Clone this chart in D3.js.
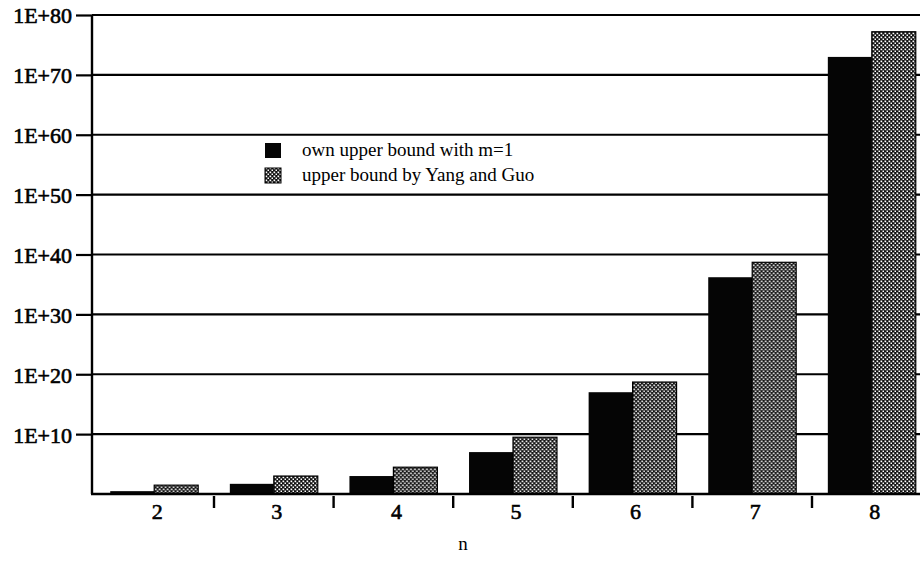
<!DOCTYPE html>
<html>
<head>
<meta charset="utf-8">
<script src="https://cdn.jsdelivr.net/npm/d3@7"></script>
<style>
  html, body { margin: 0; padding: 0; background: #fff; }
  svg { display: block; }
  text { font-family: "Liberation Serif", "DejaVu Serif", serif; fill: #000; }
</style>
</head>
<body>
<svg id="chart" width="920" height="569"></svg>
<script>
// ---- data ----
const categories = ["2", "3", "4", "5", "6", "7", "8"];
const seriesNames = ["own upper bound with m=1", "upper bound by Yang and Guo"];
const ownBound = [3, 5e1, 1e3, 1e7, 1e17, 1.6e36, 1e73];
const yangGuoBound = [3e1, 1e3, 3e4, 3e9, 5e18, 5e38, 1.6e77];
const yTickValues = [1e10, 1e20, 1e30, 1e40, 1e50, 1e60, 1e70, 1e80];
const yTickLabels = ["1E+10", "1E+20", "1E+30", "1E+40", "1E+50", "1E+60", "1E+70", "1E+80"];
const xTitle = "n";

// ---- layout ----
const svg = d3.select("#chart");
const axisX = 92, baseY = 494, topY = 15;
const x = d3.scaleBand().domain(categories).range([94.4, 931.6]).padding(0);
const xs = d3.scaleBand().domain([0, 1]).range([0, x.bandwidth()]).paddingInner(0).paddingOuter(0.36);
const y = d3.scaleLog().domain([1, 1e80]).range([baseY, topY]);

// defs: dotted pattern
const defs = svg.append("defs");
const pat = defs.append("pattern").attr("id", "dots")
  .attr("patternUnits", "userSpaceOnUse").attr("width", 4).attr("height", 4);
pat.append("rect").attr("width", 4).attr("height", 4).attr("fill", "#111");
pat.append("rect").attr("x", 0.5).attr("y", 0.5).attr("width", 1.7).attr("height", 1.7).attr("fill", "#fff");
pat.append("rect").attr("x", 2.5).attr("y", 2.5).attr("width", 1.7).attr("height", 1.7).attr("fill", "#fff");

// gridlines
svg.append("g").selectAll("line").data(yTickValues).join("line")
  .attr("x1", axisX).attr("x2", 931)
  .attr("y1", d => y(d)).attr("y2", d => y(d))
  .attr("stroke", "#000").attr("stroke-width", 2.2);

// bars
const rows = categories.map((c, i) => ({ c, vals: [ownBound[i], yangGuoBound[i]] }));
const groups = svg.append("g").selectAll("g").data(rows).join("g")
  .attr("transform", d => `translate(${x(d.c)},0)`);
groups.selectAll("rect").data(d => d.vals.map((v, k) => ({ v, k }))).join("rect")
  .attr("x", d => xs(d.k))
  .attr("width", xs.bandwidth())
  .attr("y", d => y(d.v))
  .attr("height", d => baseY - y(d.v))
  .attr("fill", d => d.k === 0 ? "#050505" : "url(#dots)")
  .attr("stroke", "#000").attr("stroke-width", d => d.k === 0 ? 0 : 1.2);

// y axis
const yAxis = d3.axisLeft(y).tickValues(yTickValues)
  .tickFormat((d, i) => yTickLabels[i]).tickSize(16).tickPadding(4);
const gy = svg.append("g").attr("transform", `translate(${axisX},0)`).call(yAxis);
gy.select(".domain").attr("d", `M0,${topY}V${baseY}`).attr("stroke", "#000").attr("stroke-width", 2.4);
gy.selectAll(".tick line").attr("stroke", "#000").attr("stroke-width", 2.2);
gy.selectAll(".tick text").style("font-family", '"Liberation Serif", serif')
  .style("font-size", "22px").attr("stroke", "#000").attr("stroke-width", 0.6).attr("fill", "#000")
  .attr("dy", "0.36em");

// x axis: baseline, boundary ticks, labels
svg.append("line").attr("x1", axisX - 1).attr("x2", 931).attr("y1", baseY).attr("y2", baseY)
  .attr("stroke", "#000").attr("stroke-width", 2.4);
svg.append("g").selectAll("line").data(categories.slice(1)).join("line")
  .attr("x1", d => x(d)).attr("x2", d => x(d))
  .attr("y1", baseY + 2).attr("y2", baseY + 14)
  .attr("stroke", "#000").attr("stroke-width", 2.4);
const xAxis = d3.axisBottom(x).tickSize(0).tickPadding(9);
const gx = svg.append("g").attr("transform", `translate(3,${baseY})`).call(xAxis);
gx.select(".domain").remove();
gx.selectAll(".tick text").style("font-family", '"Liberation Serif", serif')
  .style("font-size", "22px").attr("stroke", "#000").attr("stroke-width", 0.6).attr("fill", "#000");

// x title
svg.append("text").attr("x", 463).attr("y", 550).attr("text-anchor", "middle")
  .style("font-size", "19px").text(xTitle);

// legend
const legend = svg.append("g").attr("transform", "translate(265,143)");
seriesNames.forEach((name, i) => {
  legend.append("rect").attr("x", 0).attr("y", i * 25).attr("width", 16).attr("height", 15)
    .attr("fill", i === 0 ? "#050505" : "url(#dots)").attr("stroke", "#000").attr("stroke-width", i === 0 ? 0 : 1);
  legend.append("text").attr("x", 37).attr("y", i * 25 + 13)
    .style("font-size", "19px").text(name);
});
</script>
</body>
</html>
